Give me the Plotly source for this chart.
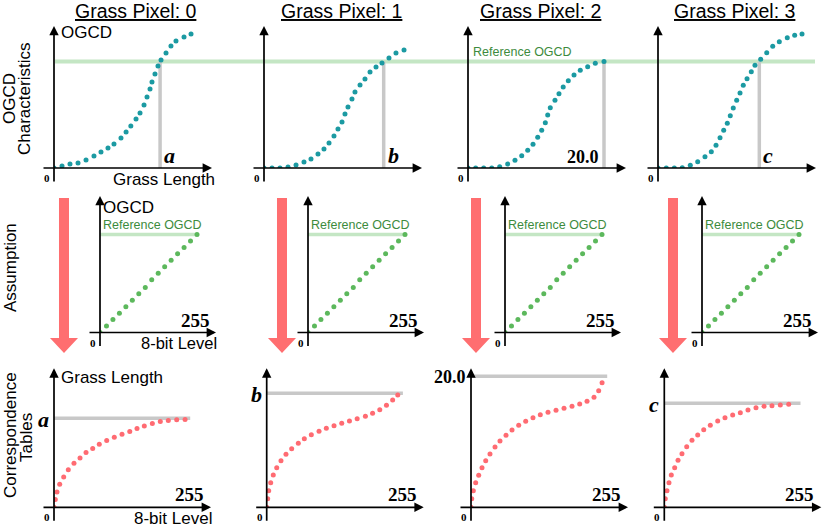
import plotly.graph_objects as go

# ---- data ----
pixel_titles = ["Grass Pixel: 0", "Grass Pixel: 1", "Grass Pixel: 2", "Grass Pixel: 3"]
length_labels = ["a", "b", "20.0", "c"]
ref_ogcd = 0.76

# OGCD characteristics (grass length vs OGCD)
len_p0 = [0, 1.18, 2.35, 3.53, 4.71, 5.88, 6.91, 7.94, 8.82, 9.85, 10.6, 11.3, 12.06, 12.65,
          13.24, 13.68, 14.12, 14.41, 14.85, 15.29, 15.74, 16.47, 17.2, 17.94, 19.12, 20.15]
ogcd_p0 = [0, 0.014, 0.029, 0.036, 0.057, 0.086, 0.114, 0.143, 0.171, 0.214, 0.257, 0.30, 0.35,
           0.393, 0.45, 0.507, 0.564, 0.614, 0.671, 0.729, 0.771, 0.821, 0.871, 0.907, 0.936, 0.957]
len_p1 = [0, 1.18, 2.35, 3.53, 4.71, 5.88, 6.91, 7.94, 8.82, 9.56, 10.29, 10.88, 11.47, 11.91,
          12.35, 12.94, 13.38, 14.12, 14.85, 15.59, 16.47, 17.35, 18.38, 19.41, 20.59]
ogcd_p1 = [0, 0, 0, 0.007, 0.021, 0.043, 0.064, 0.1, 0.136, 0.179, 0.229, 0.279, 0.329, 0.386,
           0.436, 0.493, 0.543, 0.593, 0.636, 0.686, 0.721, 0.75, 0.786, 0.821, 0.843]
len_p2 = [0, 1.13, 2.31, 3.49, 4.66, 5.84, 6.91, 7.9, 8.78, 9.56, 10.25, 10.84, 11.37, 11.72,
          12.1, 12.79, 13.38, 14.0, 14.75, 15.59, 16.51, 17.6, 18.72, 20.0]
ogcd_p2 = [0, 0, 0, 0, 0.009, 0.029, 0.055, 0.088, 0.126, 0.169, 0.219, 0.269, 0.324, 0.379,
           0.431, 0.484, 0.531, 0.579, 0.624, 0.664, 0.698, 0.724, 0.748, 0.76]
len_p3 = [0, 1.22, 2.4, 3.57, 4.75, 5.84, 6.91, 7.84, 8.53, 9.12, 9.66, 10.19, 10.63, 11.07,
          11.57, 12.06, 12.54, 13.09, 13.72, 14.26, 15.1, 15.99, 16.87, 17.84, 19.01, 20.1, 21.18]
ogcd_p3 = [0, 0, 0, 0.002, 0.019, 0.045, 0.081, 0.116, 0.162, 0.216, 0.269, 0.319, 0.374, 0.429,
           0.484, 0.536, 0.591, 0.638, 0.688, 0.734, 0.776, 0.824, 0.869, 0.902, 0.931, 0.948, 0.957]
length_at_ref = [15.6, 17.6, 20.0, 14.9]

# Assumption (8-bit level vs OGCD)
assume_level = [0, 17, 34, 51, 68, 85, 102, 119, 136, 153, 170, 187, 204, 221, 238, 255]
assume_ogcd = [0, 0.05, 0.10, 0.15, 0.20, 0.25, 0.30, 0.35, 0.41, 0.46, 0.51, 0.56, 0.61, 0.66, 0.71, 0.76]

# Correspondence tables (8-bit level vs grass length)
lvl_p0 = [0, 2.5, 5.8, 11.1, 18.9, 27.8, 38.9, 50.6, 62.3, 75.3, 88.1, 102.5, 117.3, 132.3,
          147.4, 161.5, 175.7, 191.3, 206.8, 222.4, 238.7, 255]
tbl_p0 = [0, 1.18, 2.35, 3.51, 4.63, 5.75, 6.72, 7.54, 8.35, 8.96, 9.62, 10.18, 10.69, 11.15,
          11.56, 12.02, 12.43, 12.79, 13.1, 13.25, 13.35, 13.39]
lvl_p1 = [0, 1.9, 3.9, 7.8, 12.8, 19.5, 27.8, 37.5, 48.6, 61.5, 73.2, 86.8, 101.8, 116, 131, 146,
          161, 176, 192, 206, 220, 233, 245, 255]
tbl_p1 = [0, 1.31, 2.53, 3.76, 4.93, 6.05, 7.11, 8.09, 8.95, 9.77, 10.47, 11.08, 11.6, 12.06,
          12.46, 12.82, 13.18, 13.53, 13.89, 14.35, 14.9, 15.57, 16.38, 17.15]
lvl_p2 = [0, 1.4, 4.5, 9.1, 15, 21.4, 28.6, 36.9, 46.7, 56.4, 68.1, 79.8, 92.8, 106.4, 120.6,
          134.8, 149.8, 165.4, 181, 196.5, 211.5, 225.7, 239.3, 248.4, 255]
tbl_p2 = [0, 1.31, 2.53, 3.76, 4.89, 6.05, 7.11, 8.14, 9.21, 10.12, 10.99, 11.8, 12.52, 13.13,
          13.68, 14.14, 14.5, 14.81, 15.11, 15.42, 15.77, 16.18, 16.79, 17.8, 19.02]
lvl_p3 = [0, 1.9, 5.2, 9.1, 13.6, 20.2, 26.7, 34.4, 43.6, 53.9, 65, 76.7, 89.5, 103.9, 118.1,
          133, 147.9, 162.8, 178.4, 194, 209.5, 225.7, 242]
tbl_p3 = [0, 1.31, 2.53, 3.76, 4.93, 6.05, 7.17, 8.18, 9.25, 10.23, 11.04, 11.85, 12.52, 13.18,
          13.68, 14.09, 14.44, 14.85, 15.2, 15.42, 15.51, 15.62, 15.72]
table_max_length = [13.6, 17.4, 20.0, 15.9]
table_line_end = 265

ogcd_curves = [(len_p0, ogcd_p0), (len_p1, ogcd_p1), (len_p2, ogcd_p2), (len_p3, ogcd_p3)]
tables = [(lvl_p0, tbl_p0), (lvl_p1, tbl_p1), (lvl_p2, tbl_p2), (lvl_p3, tbl_p3)]

# ---- layout helpers (pixel -> paper) ----
W, H = 830, 530
SANS = "Liberation Sans, Arial, sans-serif"
SERIF = "Liberation Serif, Times New Roman, serif"
TEAL, GREEN, PINK = "#1b9aa2", "#5cb85c", "#ff6b72"
LIGHT_GREEN, GRAY, ARROW_RED = "#c4e6c4", "#c8c8c8", "#ff6e70"


def px(x):
    return x / W


def py(y):
    return 1 - y / H


fig = go.Figure()
annotations = []
shapes = []


def add_panel(k, ox, oy, w, h, xmax, ymax):
    xn = "x" if k == 1 else f"x{k}"
    yn = "y" if k == 1 else f"y{k}"
    fig.update_layout({
        ("xaxis" if k == 1 else f"xaxis{k}"): dict(domain=[px(ox), px(ox + w)], range=[0, xmax],
                                                   visible=False, anchor=yn, fixedrange=True),
        ("yaxis" if k == 1 else f"yaxis{k}"): dict(domain=[py(oy), py(oy - h)], range=[0, ymax],
                                                   visible=False, anchor=xn, fixedrange=True),
    })
    # axis arrows
    annotations.append(dict(x=1, y=0, xref=f"{xn} domain", yref=f"{yn} domain", text="",
                            showarrow=True, ax=-(w + 12), ay=0, arrowhead=2, arrowsize=1.1,
                            arrowwidth=1.7, arrowcolor="black", standoff=0))
    annotations.append(dict(x=0, y=1, xref=f"{xn} domain", yref=f"{yn} domain", text="",
                            showarrow=True, ax=0, ay=h + 15, arrowhead=2, arrowsize=1.1,
                            arrowwidth=1.7, arrowcolor="black", standoff=0))
    annotations.append(dict(x=0, y=0, xref=f"{xn} domain", yref=f"{yn} domain", text="<b>0</b>",
                            showarrow=False, xanchor="right", yanchor="top", xshift=-2, yshift=-2,
                            font=dict(family=SERIF, size=11, color="black")))
    return xn, yn


row1_x = [54, 264, 468, 658]
row2_x = [100, 308, 505, 702]
row3_x = [54, 266.7, 471, 664.3]

for c in range(4):
    # row 1: OGCD characteristics
    xn, yn = add_panel(c + 1, row1_x[c], 168, 158, 142, 158 / 6.8, 142 / 140)
    fig.add_trace(go.Scatter(x=[length_at_ref[c], length_at_ref[c]], y=[0, ref_ogcd], mode="lines",
                             line=dict(color=GRAY, width=3.5), xaxis=xn, yaxis=yn, hoverinfo="skip"))
    fig.add_trace(go.Scatter(x=ogcd_curves[c][0], y=ogcd_curves[c][1], mode="markers",
                             marker=dict(color=TEAL, size=5), xaxis=xn, yaxis=yn))
    lab = length_labels[c]
    if lab == "20.0":
        annotations.append(dict(x=length_at_ref[c], y=0, xref=xn, yref=yn, text="<b>20.0</b>",
                                showarrow=False, xanchor="right", yanchor="bottom", xshift=-3, yshift=-1,
                                font=dict(family=SERIF, size=18, color="black")))
    else:
        annotations.append(dict(x=length_at_ref[c], y=0, xref=xn, yref=yn, text=f"<b><i>{lab}</i></b>",
                                showarrow=False, xanchor="left", yanchor="bottom", xshift=2, yshift=-2,
                                font=dict(family=SERIF, size=22, color="black")))

    # row 2: assumption
    xn, yn = add_panel(c + 5, row2_x[c], 332.5, 116, 136.5, 116 * 255 / 97, 136.5 / 128.9)
    fig.add_trace(go.Scatter(x=[0, 255], y=[ref_ogcd, ref_ogcd], mode="lines",
                             line=dict(color=LIGHT_GREEN, width=3.5), xaxis=xn, yaxis=yn, hoverinfo="skip"))
    fig.add_trace(go.Scatter(x=assume_level, y=assume_ogcd, mode="markers",
                             marker=dict(color=GREEN, size=5), xaxis=xn, yaxis=yn))
    annotations.append(dict(x=0, y=ref_ogcd, xref=xn, yref=yn, text="Reference OGCD", showarrow=False,
                            xanchor="left", yanchor="bottom", xshift=1, yshift=1,
                            font=dict(family=SANS, size=12.5, color="#3d8b3d")))
    annotations.append(dict(x=1, y=0, xref=f"{xn} domain", yref=f"{yn} domain", text="<b>255</b>",
                            showarrow=False, xanchor="right", yanchor="bottom", xshift=-4, yshift=0,
                            font=dict(family=SERIF, size=19, color="black")))

    # row 3: correspondence tables
    xn, yn = add_panel(c + 9, row3_x[c], 507.3, 157, 139, 157 / 0.514, 139 / 6.55)
    fig.add_trace(go.Scatter(x=[0, table_line_end], y=[table_max_length[c]] * 2, mode="lines",
                             line=dict(color=GRAY, width=3.5), xaxis=xn, yaxis=yn, hoverinfo="skip"))
    fig.add_trace(go.Scatter(x=tables[c][0], y=tables[c][1], mode="markers",
                             marker=dict(color=PINK, size=5), xaxis=xn, yaxis=yn))
    if lab == "20.0":
        txt, fs = "<b>20.0</b>", 18
    else:
        txt, fs = f"<b><i>{lab}</i></b>", 22
    annotations.append(dict(x=0, y=table_max_length[c], xref=xn, yref=yn, text=txt, showarrow=False,
                            xanchor="right", yanchor="middle", xshift=-3, yshift=-1,
                            font=dict(family=SERIF, size=fs, color="black")))
    annotations.append(dict(x=1, y=0, xref=f"{xn} domain", yref=f"{yn} domain", text="<b>255</b>",
                            showarrow=False, xanchor="right", yanchor="bottom", xshift=-5, yshift=0,
                            font=dict(family=SERIF, size=19, color="black")))

# reference OGCD line across the top row
shapes.append(dict(type="line", xref="paper", yref="y", x0=px(55), x1=px(815), y0=ref_ogcd, y1=ref_ogcd,
                   line=dict(color=LIGHT_GREEN, width=4), layer="below"))

# big red arrows between rows
for cx in [64, 282, 476, 673]:
    pts = [(cx - 5, 198), (cx + 5, 198), (cx + 5, 338), (cx + 14, 338), (cx, 353), (cx - 14, 338), (cx - 5, 338)]
    path = "M " + " L ".join(f"{px(x):.5f},{py(y):.5f}" for x, y in pts) + " Z"
    shapes.append(dict(type="path", xref="paper", yref="paper", path=path,
                       fillcolor=ARROW_RED, line=dict(width=0)))


def label(x, y, text, size=17, anchor="left", color="black", angle=0, family=SANS):
    annotations.append(dict(x=px(x), y=py(y), xref="paper", yref="paper", text=text, showarrow=False,
                            xanchor=anchor, yanchor="middle", textangle=angle, borderpad=0,
                            font=dict(family=family, size=size, color=color)))


for x, t in zip([136, 341, 540, 734], pixel_titles):
    label(x, 11, f"<u>{t}</u>", size=19.5, anchor="center")

label(60, 33, "OGCD")
label(112, 180, "Grass Length")
label(472, 52, "Reference OGCD", size=12.5, color="#3d8b3d")
label(102, 207, "OGCD")
label(140, 343, "8-bit Level", size=16.5)
label(60, 377, "Grass Length")
label(133, 518, "8-bit Level")

label(10, 99, "OGCD", anchor="center", angle=-90)
label(25, 99, "Characteristics", anchor="center", angle=-90)
label(10, 268, "Assumption", anchor="center", angle=-90)
label(10, 435, "Correspondence", anchor="center", angle=-90)
label(26, 438, "Tables", anchor="center", angle=-90)

fig.update_layout(
    width=W, height=H, margin=dict(l=0, r=0, t=0, b=0),
    paper_bgcolor="white", plot_bgcolor="rgba(0,0,0,0)",
    showlegend=False, annotations=annotations, shapes=shapes,
)

# drop the default page margin so the figure sits at the window's top-left corner
fig.write_html("out.html", config={"displayModeBar": False},
               post_script="document.body.style.margin='0px';")
